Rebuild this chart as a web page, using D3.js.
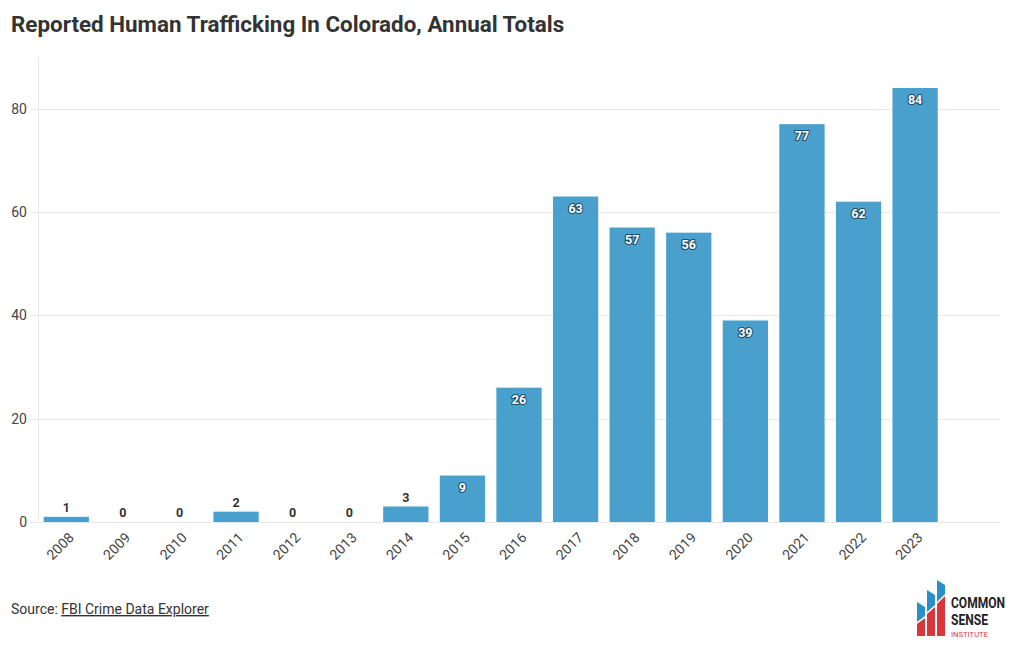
<!DOCTYPE html>
<html>
<head>
<meta charset="utf-8">
<script src="https://cdn.jsdelivr.net/npm/d3@7"></script>
<style>
  body { margin: 0; background: #fff; font-family: Roboto, sans-serif; }
  svg { display: block; }
</style>
</head>
<body>
<svg width="1020" height="650"></svg>
<script>
// data
const years = ["2008", "2009", "2010", "2011", "2012", "2013", "2014", "2015",
    "2016", "2017", "2018", "2019", "2020", "2021", "2022", "2023"];
const totals = [1, 0, 0, 2, 0, 0, 3, 9, 26, 63, 57, 56, 39, 77, 62, 84];
const yTicks = [0, 20, 40, 60, 80];

const svg = d3.select("svg");
const margin = { left: 38, right: 1000, top: 57, bottom: 522 };

// the chart keeps one empty slot after the last year
const x = d3.scaleBand()
    .domain(years.concat(["_"]))
    .range([margin.left, margin.right])
    .paddingInner(0.2)
    .paddingOuter(0.1);

const y = d3.scaleLinear()
    .domain([0, 90])
    .range([margin.bottom, margin.top]);

// title
svg.append("text")
    .attr("x", 11)
    .attr("y", 32)
    .style("font-size", "22.4px")
    .style("font-weight", "bold")
    .style("fill", "#333")
    .text("Reported Human Trafficking In Colorado, Annual Totals");

// grid
svg.append("g")
    .selectAll("line")
    .data(yTicks)
    .join("line")
    .attr("x1", 30)
    .attr("x2", margin.right)
    .attr("y1", d => Math.round(y(d)) + 0.5)
    .attr("y2", d => Math.round(y(d)) + 0.5)
    .style("stroke", "#e8e8e8");

svg.append("line")
    .attr("x1", margin.left + 0.5).attr("x2", margin.left + 0.5)
    .attr("y1", margin.top).attr("y2", margin.bottom)
    .style("stroke", "#e8e8e8");

// y labels
svg.append("g")
    .selectAll("text")
    .data(yTicks)
    .join("text")
    .attr("x", 27)
    .attr("y", d => y(d) + 5)
    .attr("text-anchor", "end")
    .style("font-size", "14px")
    .style("fill", "#444")
    .text(d => d);

// bars
svg.append("g")
    .selectAll("rect")
    .data(totals)
    .join("rect")
    .attr("x", (d, i) => x(years[i]))
    .attr("width", x.bandwidth())
    .attr("y", d => y(d))
    .attr("height", d => y(0) - y(d))
    .style("fill", "#4aa0cc");

// x labels
svg.append("g")
    .selectAll("text")
    .data(years)
    .join("text")
    .attr("transform", d => `translate(${x(d) + x.bandwidth() / 2 + 5},${535}) rotate(-45)`)
    .attr("text-anchor", "end")
    .attr("dy", "0.35em")
    .style("font-size", "14px")
    .style("fill", "#444")
    .text(d => d);

// value labels
const labels = svg.append("g")
    .selectAll("text")
    .data(totals)
    .join("text")
    .attr("x", (d, i) => x(years[i]) + x.bandwidth() / 2)
    .attr("text-anchor", "middle")
    .style("font-size", "12.5px")
    .style("font-weight", "bold")
    .text(d => d);

labels.filter(d => d >= 5)
    .attr("y", d => y(d) + 16)
    .style("fill", "#fff")
    .style("stroke", "#1f4f6a")
    .style("stroke-width", 2.2)
    .style("paint-order", "stroke")
    .style("stroke-linejoin", "round");

labels.filter(d => d < 5)
    .attr("y", d => y(d) - 5)
    .style("fill", "#333");

// source
const src = svg.append("text")
    .attr("x", 11)
    .attr("y", 614)
    .style("font-size", "14px")
    .style("fill", "#333");
src.append("tspan").text("Source: ");
src.append("tspan").style("text-decoration", "underline").text("FBI Crime Data Explorer");

// logo
const logo = svg.append("g").attr("transform", "translate(917,580)");
logo.append("path").attr("d", "M0,56 L0,44 L8,38 L8,56 Z M10,56 L10,34 L18,27 L18,56 Z M20,56 L20,24 L28,16 L28,56 Z").style("fill", "#d8363a");
logo.append("path").attr("d", "M0,42 L0,22 L8,27 L8,36 Z M10,32 L10,10 L18,15 L18,25 Z M20,22 L20,0 L28,5 L28,14 Z").style("fill", "#2d8fc9");
logo.append("text").attr("x", 34).attr("y", 28).style("font-size", "15px").style("font-weight", "bold")
    .style("fill", "#222").attr("textLength", 54).attr("lengthAdjust", "spacingAndGlyphs").text("COMMON");
logo.append("text").attr("x", 34).attr("y", 45).style("font-size", "15px").style("font-weight", "bold")
    .style("fill", "#222").attr("textLength", 37).attr("lengthAdjust", "spacingAndGlyphs").text("SENSE");
logo.append("text").attr("x", 34).attr("y", 57).style("font-size", "7px")
    .style("fill", "#d8363a").attr("textLength", 37).attr("lengthAdjust", "spacingAndGlyphs").text("INSTITUTE");
</script>
</body>
</html>
